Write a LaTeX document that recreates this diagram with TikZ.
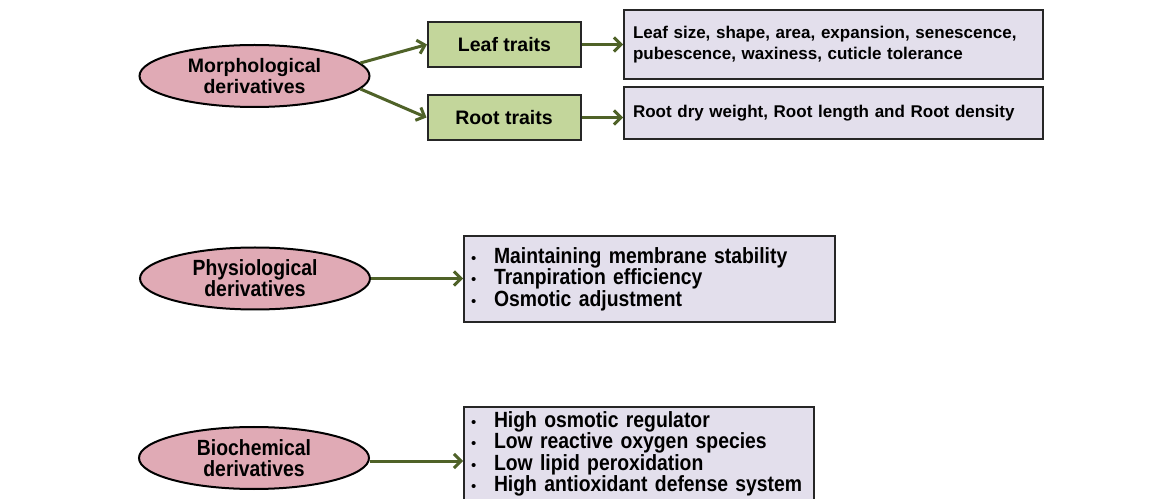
\documentclass[tikz,border=0pt]{standalone}
\usepackage{fontspec}
\setmainfont{Liberation Sans}
\newfontfamily\narrowfont{Liberation Sans}[FakeStretch=0.88]
\usetikzlibrary{arrows.meta,shapes.geometric}
\definecolor{pinkfill}{HTML}{E0AAB5}
\definecolor{greenfill}{HTML}{C3D69B}
\definecolor{lavfill}{HTML}{E3DFEC}
\definecolor{arrowgreen}{HTML}{4F6228}
\definecolor{edgecol}{HTML}{262626}
\newcommand\bitem[1]{\mbox{\makebox[23bp][l]{\normalfont\fontsize{15bp}{15bp}\selectfont •}#1}}
\begin{document}
\begin{tikzpicture}[x=1bp,y=-1bp,
 ell/.style={ellipse, draw=black, line width=2bp, fill=pinkfill, minimum width=230bp, minimum height=62bp, inner sep=0pt, align=center, font=\bfseries\fontsize{19.5bp}{21bp}\selectfont},
 nell/.style={ell, font=\narrowfont\bfseries\fontsize{22bp}{21bp}\selectfont},
 trait/.style={rectangle, draw=edgecol, line width=2bp, fill=greenfill, minimum width=153bp, minimum height=45bp, inner sep=0pt, font=\bfseries\fontsize{19.5bp}{21bp}\selectfont},
 desc/.style={rectangle, draw=edgecol, line width=2bp, fill=lavfill, inner xsep=9bp, inner ysep=0pt, text width=401bp, align=left, font=\bfseries\fontsize{17bp}{21.5bp}\selectfont},
 listbox/.style={rectangle, draw=edgecol, line width=2bp, fill=lavfill, inner xsep=7bp, inner ysep=0pt, align=left, font=\narrowfont\bfseries\fontsize{22bp}{20.5bp}\selectfont},
 arr/.style={draw=arrowgreen, line width=3bp, -{Straight Barb[length=7bp,width=14bp]}},
]
\useasboundingbox[fill=white] (0,0) rectangle (1165,499);

% Morphological
\node[ell] (morph) at (254.5,76) {Morphological\\derivatives};
\node[trait] (leaf) at (504.5,44.5) {Leaf traits};
\node[trait] (root) at (504,117.5) {Root traits};
\node[desc, minimum height=69bp] (leafd) at (833.5,44.5) {Leaf size, shape, area, expansion, senescence,\\pubescence, waxiness, cuticle tolerance};
\node[desc, minimum height=52bp] (rootd) at (833.5,113) {Root dry weight, Root length and Root density};

\draw[arr] (morph.7) -- (leaf.west);
\draw[arr] (morph.-7) -- (root.west);
\draw[arr] (leaf.east) -- (leaf.east -| leafd.west);
\draw[arr] (root.east) -- (root.east -| rootd.west);

% Physiological
\node[nell] (phys) at (255,278.5) {Physiological\\derivatives};
\node[listbox, text width=357bp, minimum height=86bp] (physb) at (649.5,279) {\bitem{Maintaining membrane stability}\\\bitem{Tranpiration efficiency}\\\bitem{Osmotic adjustment}};
\draw[arr] (phys.east) -- (phys.east -| physb.west);

% Biochemical
\node[nell] (bio) at (254,458) {Biochemical\\derivatives};
\node[listbox, text width=336bp, minimum height=94bp] (biob) at (639,454) {\bitem{High osmotic regulator}\\\bitem{Low reactive oxygen species}\\\bitem{Low lipid peroxidation}\\\bitem{High antioxidant defense system}};
\draw[arr] ([yshift=-3bp]bio.east) -- ([yshift=-3bp]bio.east -| biob.west);
\end{tikzpicture}
\end{document}
